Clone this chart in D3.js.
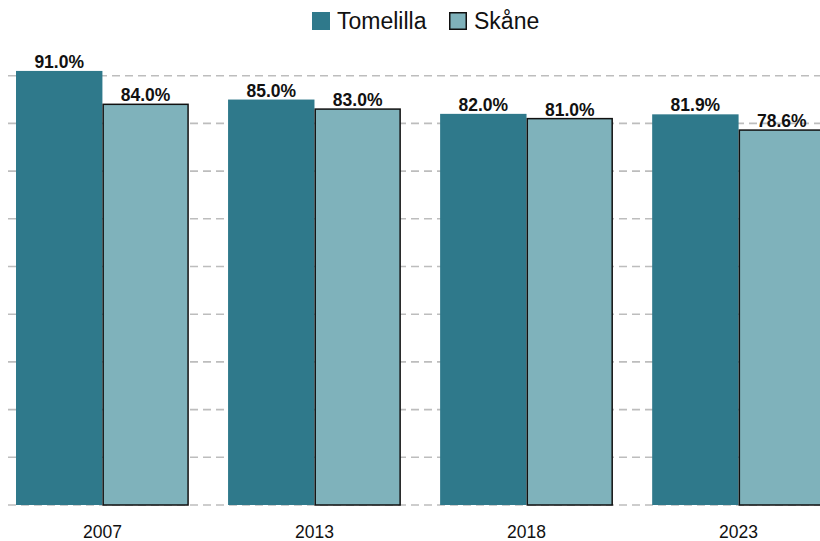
<!DOCTYPE html>
<html>
<head>
<meta charset="utf-8">
<script src="https://cdn.jsdelivr.net/npm/d3@7"></script>
<style>
  body { margin: 0; background: #fff; }
  svg { display: block; font-family: "Liberation Sans", Arial, sans-serif; }
</style>
</head>
<body>
<div id="chart"></div>
<script>
// data ---------------------------------------------------------------
const years = ['2007', '2013', '2018', '2023'];
const seriesNames = ['Tomelilla', 'Skåne'];
const tomelilla = [91.0, 85.0, 82.0, 81.9];
const skane = [84.0, 83.0, 81.0, 78.6];
const gridTicks = [0, 10, 20, 30, 40, 50, 60, 70, 80, 90];

const colors = { 'Tomelilla': '#2f798b', 'Skåne': '#7fb2bb' };

// layout -------------------------------------------------------------
const width = 820;
const height = 541;
const margin = { top: 30, right: 0, bottom: 36, left: 8 };

const svg = d3.select('#chart')
    .append('svg')
    .attr('width', width)
    .attr('height', height);

const rows = years.map((y, i) => ({ year: y, 'Tomelilla': tomelilla[i], 'Skåne': skane[i] }));

const x0 = d3.scaleBand()
    .domain(years)
    .range([16, 825])
    .paddingInner(0.185)
    .paddingOuter(0);

const x1 = d3.scaleBand()
    .domain(seriesNames)
    .range([0, x0.bandwidth()]);

const y = d3.scaleLinear()
    .domain([0, 100])
    .range([505, 28]);

// gridlines
svg.append('g')
    .selectAll('line')
    .data(gridTicks)
    .join('line')
    .attr('x1', margin.left)
    .attr('x2', width)
    .attr('y1', d => y(d))
    .attr('y2', d => y(d))
    .attr('stroke', '#bdbdbd')
    .attr('stroke-width', 1.6)
    .attr('stroke-dasharray', '8,5');

// bars
const groups = svg.append('g')
    .selectAll('g')
    .data(rows)
    .join('g')
    .attr('transform', d => `translate(${x0(d.year)},0)`);

groups.selectAll('rect')
    .data(d => seriesNames.map(k => ({ key: k, value: d[k] })))
    .join('rect')
    .attr('x', d => x1(d.key) + (d.key === 'Skåne' ? 0.75 : 0))
    .attr('y', d => y(d.value))
    .attr('width', d => x1.bandwidth() - (d.key === 'Skåne' ? 1.5 : 0))
    .attr('height', d => y(0) - y(d.value))
    .attr('fill', d => colors[d.key])
    .attr('stroke', d => d.key === 'Skåne' ? '#111' : 'none')
    .attr('stroke-width', 1.5);

// value labels
groups.selectAll('text')
    .data(d => seriesNames.map(k => ({ key: k, value: d[k] })))
    .join('text')
    .attr('x', d => x1(d.key) + x1.bandwidth() / 2)
    .attr('y', d => y(d.value) - 3)
    .attr('text-anchor', 'middle')
    .attr('font-size', '17.5px')
    .attr('font-weight', 'bold')
    .attr('fill', '#111')
    .text(d => d.value.toFixed(1) + '%');

// x axis labels
svg.append('g')
    .attr('transform', `translate(0,${y(0)})`)
    .call(d3.axisBottom(x0).tickSize(0).tickPadding(21))
    .call(g => g.select('.domain').remove())
    .selectAll('text')
    .attr('font-family', '"Liberation Sans", Arial, sans-serif')
    .attr('font-size', '17.5px')
    .attr('fill', '#111');

// legend
const legend = svg.append('g')
    .selectAll('g')
    .data(seriesNames)
    .join('g')
    .attr('transform', (d, i) => `translate(${i === 0 ? 312 : 449},12)`);

legend.append('rect')
    .attr('x', d => d === 'Skåne' ? 0.75 : 0)
    .attr('y', d => d === 'Skåne' ? 0.75 : 0)
    .attr('width', d => d === 'Skåne' ? 16.5 : 18)
    .attr('height', d => d === 'Skåne' ? 16.5 : 18)
    .attr('fill', d => colors[d])
    .attr('stroke', d => d === 'Skåne' ? '#111' : 'none')
    .attr('stroke-width', 1.5);

legend.append('text')
    .attr('x', 25)
    .attr('y', 9)
    .attr('dy', '0.35em')
    .attr('font-size', '23px')
    .attr('fill', '#111')
    .text(d => d);
</script>
</body>
</html>
